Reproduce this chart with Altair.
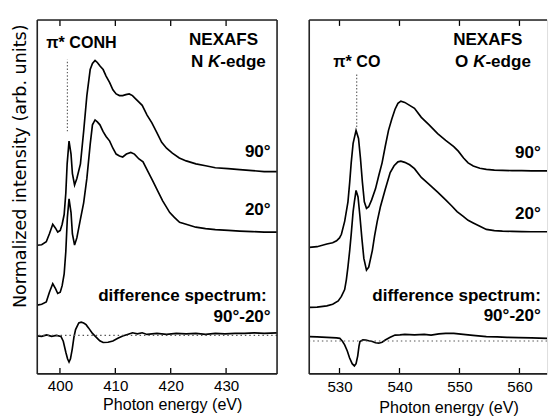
import altair as alt
import pandas as pd

FONT = "Liberation Sans"
W_L, W_R, H = 246, 244, 363

# ---------------- N K-edge (left panel) ----------------
n90_E = [395.9, 396.7, 397.53, 398.1, 398.7, 399.2, 399.6, 400.05, 400.4, 400.76, 401.06, 401.3, 401.64, 402.0,
         402.25, 402.64, 403.05, 403.7, 404.28, 404.86, 405.46, 405.87, 406.34, 406.75, 407.27, 407.8, 408.33,
         408.98, 409.56, 410.15, 410.75, 411.33, 411.9, 412.5, 413.1, 413.67, 414.27, 414.85, 415.73, 416.6,
         417.5, 418.37, 419.25, 420.3, 421.55, 422.8, 424.55, 426.3, 428.06, 430.35, 432.46, 434.75, 436.87, 439.16]
n90_I = [132, 132.5, 135.5, 143.8, 153.5, 149.5, 145.5, 147.2, 153.5, 163.5, 185.5, 215.5, 238.8, 225.5,
         205.5, 193.8, 200.5, 215.5, 248.8, 285.5, 312.2, 318.5, 321.5, 319.5, 315.5, 312.2, 305.5,
         298.8, 291.5, 287.2, 285.5, 285.5, 286.5, 287.2, 285.5, 282.2, 278.8, 275.5, 265.5, 257.5,
         247.5, 237.5, 231.5, 226.5, 221.5, 218.5, 215.5, 213.5, 211.5, 210.5, 209.5, 208.5, 207.5, 207.5]

n20_E = [395.9, 396.7, 397.53, 398.1, 398.7, 399.2, 399.6, 400.05, 400.4, 400.76, 401.06, 401.34, 401.64, 402.0,
         402.25, 402.64, 403.05, 403.7, 404.28, 404.86, 405.46, 405.87, 406.34, 406.75, 407.22, 407.8, 408.33,
         408.98, 409.56, 410.15, 410.75, 411.33, 412.0, 412.8, 413.45, 414.27, 415.0, 415.9, 416.8, 417.67,
         418.55, 419.83, 420.66, 421.6, 422.78, 424.54, 426.3, 428.06, 430.4, 432.46, 434.75, 436.87, 439.16]
n20_I = [70.5, 71.5, 73.8, 83.8, 92.5, 87.5, 82.5, 83.8, 90.5, 102.5, 125.5, 160.5, 179.5, 165.5,
         143.5, 132.2, 139.5, 158.8, 175.5, 200.5, 235.5, 255.5, 260.5, 258.5, 255.5, 248.5, 243.5,
         238.8, 231.5, 225.5, 223.5, 222.5, 225.5, 227.2, 225.5, 220.5, 217.5, 207.5, 197.5, 187.5,
         177.5, 165.5, 160.5, 155.5, 153.5, 150.5, 149, 148, 147.2, 146.5, 146, 145.5, 145.5]

nd_E = [395.9, 396.7, 397.6, 398.5, 399.35, 400.18, 400.6, 401.06, 401.37, 401.64, 401.9, 402.22, 402.52, 402.82,
        403.4, 403.84, 404.28, 404.72, 405.16, 405.87, 406.62, 407.19, 407.8, 408.68, 409.56, 410.45, 411.33,
        412.2, 413.1, 413.97, 414.85, 415.73, 417.5, 419.25, 421.0, 422.78, 424.54, 426.3, 428.06, 429.8,
        431.6, 433.35, 435.1, 436.87, 439.16]
nd_I = [39, 38.5, 40, 38.5, 39.5, 38.5, 33.5, 22.2, 15.5, 12.2, 15.5, 25.5, 37.5, 45.5,
        52.2, 53, 52.2, 50.5, 47.2, 41.5, 37.2, 34, 32.2, 32.5, 33.8, 36.5, 38.8,
        40.5, 42.2, 41, 42.2, 40.5, 41.5, 40.5, 41.5, 41, 41.5, 40.5, 41.5, 41,
        41.5, 41.5, 42, 41.5, 42]

# ---------------- O K-edge (right panel) ----------------
o90_E = [524.97, 526.26, 527.89, 528.86, 529.51, 530.0, 530.32, 530.86, 531.41, 531.7, 531.95, 532.27, 532.76,
         533.17, 533.49, 533.82, 534.14, 534.5, 534.87, 535.36, 536.0, 536.55, 537.1, 537.63, 538.17, 538.72,
         539.26, 539.74, 540.23, 540.88, 541.69, 542.5, 543.64, 544.94, 546.36, 547.7, 549.05, 549.8, 550.68,
         551.44, 552.3, 553.4, 554.48, 555.82, 557.17, 558.75, 560.37, 562.0, 564.6]
o90_I = [129.8, 130.5, 133.2, 134.5, 136.5, 139.5, 143.2, 156.5, 176.5, 196.5, 216.5, 236.5, 249.8,
         241.5, 221.5, 196.5, 176.5, 169.8, 171.5, 178.5, 189.8, 203.5, 216.5, 233.5, 249.8, 261.5,
         271.5, 277.5, 279.8, 278.5, 275.5, 272.5, 263.2, 255.5, 246.5, 239.5, 233.2, 228.5, 221.5,
         216.5, 213.2, 211, 209.8, 209, 208.8, 208.5, 208.5, 208.2, 208.2]

o20_E = [524.97, 526.26, 527.89, 528.86, 529.79, 530.32, 530.86, 531.14, 531.41, 531.7, 531.95, 532.27, 532.48,
         532.76, 533.09, 533.41, 533.74, 534.06, 534.5, 534.87, 535.47, 535.85, 536.29, 536.82, 537.63, 538.45,
         539.1, 539.74, 540.23, 540.88, 541.69, 542.5, 543.64, 544.94, 546.36, 547.7, 548.68, 549.6, 550.63,
         551.44, 552.3, 553.4, 554.48, 555.82, 557.17, 558.75, 560.37, 562.0, 564.6]
o20_I = [68.2, 68.5, 69.8, 71.5, 74.8, 79.5, 86.5, 96.5, 109.8, 126.5, 143.2, 166.5, 176.5,
         188.2, 181.5, 161.5, 138.5, 118.5, 106.5, 109.5, 126.5, 141.5, 156.5, 171.5, 189.5, 206.5,
         213.5, 217.5, 218.2, 217, 214.5, 210.5, 201.5, 194.5, 186.5, 178.5, 172.5, 166.5, 161.5,
         157.5, 154.8, 151.5, 148.2, 147, 146.5, 146.2, 146, 145.8, 145.8]

od_E = [524.97, 526.26, 527.89, 529.51, 530.05, 530.49, 530.86, 531.3, 531.67, 532.11, 532.48, 532.76, 533.04,
        533.25, 533.41, 533.9, 534.39, 534.87, 535.47, 536.0, 536.55, 537.1, 537.63, 538.45, 539.26, 540.07,
        540.88, 542.5, 544.13, 545.27, 546.57, 547.7, 549.05, 550.63, 552.25, 554.48, 556.3, 557.94, 559.88,
        562.0, 564.6]
od_I = [38.2, 38, 37.5, 37, 36.5, 33.5, 29.8, 23.5, 16.5, 10.5, 8.2, 10.5, 18.5,
        28.5, 33.2, 35, 34.8, 34, 33.2, 32, 31.5, 32.5, 34.8, 37.5, 39.8, 40,
        40.5, 40, 40.5, 39.8, 41, 41.5, 41.5, 40.5, 39.5, 38.2, 38, 37.5, 37.2,
        37, 36.5]

# tick values
n_ticks = [400, 410, 420, 430]
o_ticks = [530, 540, 550, 560]

# annotations: (label, energy, intensity)
n_pi_lbl, n_pi_lE, n_pi_lI = ["\u03c0* CONH"], [397.53], [334.8]
n_left_lbl = ["NEXAFS", "N", "-edge"]
n_left_E = [423.3, 423.66, 428.96]
n_left_I = [337.2, 314.5, 314.5]
n_ital_lbl, n_ital_E, n_ital_I = ["K"], [426.74], [314.5]
n_right_lbl = ["90°", "20°", "difference spectrum:", "90°-20°"]
n_right_E = [438.05, 438.05, 437.35, 438.05]
n_right_I = [222.2, 163.5, 74.8, 52.8]

o_pi_lbl, o_pi_lE, o_pi_lI = ["\u03c0* CO"], [528.96], [314.8]
o_left_lbl = ["NEXAFS", "O", "-edge"]
o_left_E = [548.95, 549.27, 554.33]
o_left_I = [337.2, 314.8, 314.8]
o_ital_lbl, o_ital_E, o_ital_I = ["K"], [552.28], [314.8]
o_right_lbl = ["90°", "20°", "difference spectrum:", "90°-20°"]
o_right_E = [563.57, 563.57, 563.57, 563.57]
o_right_I = [221.5, 158.5, 74.8, 53.8]

# dotted guides
n_pi_E, n_pi_I1, n_pi_I2, n_base = 401.34, 248.8, 322.5, 39.5
o_pi_E, o_pi_I1, o_pi_I2, o_base = 532.87, 253.2, 308.2, 33.8


def series_df(parts):
    rows = []
    for name, es, vs in parts:
        for e, v in zip(es, vs):
            rows.append({"E": e, "I": v, "s": name})
    return pd.DataFrame(rows)


def ann_df(lbl, es, vs):
    return pd.DataFrame({"label": lbl, "E": es, "I": vs})


def panel(lines, xdom, width, ticks, ann_pi, ann_l, ann_i, ann_r, pi, base_v,
          title_x, title_y, label_pad, with_ytitle, right_frame):
    xs = alt.Scale(domain=xdom, nice=False, zero=False)
    ys = alt.Scale(domain=[0, H], nice=False, zero=False)
    xaxis = alt.Axis(values=ticks, format="d", ticks=False, tickSize=0, domain=False, grid=False,
                     labelPadding=label_pad, labelFontSize=15.5, labelFont=FONT, labelColor="black",
                     title="Photon energy (eV)", titleFont=FONT, titleFontSize=16.5,
                     titleFontWeight="normal", titleColor="black", titleX=title_x, titleY=title_y,
                     titleBaseline="alphabetic", titleAlign="center")
    if with_ytitle:
        yaxis = alt.Axis(title="Normalized intensity (arb. units)", labels=False, ticks=False, tickSize=0,
                         domain=False, grid=False, titleX=-12.3, titleY=149.5, titleAngle=270,
                         titleBaseline="alphabetic", titleAlign="center", titleFont="DejaVu Sans",
                         titleFontSize=18, titleFontWeight="normal", titleColor="black")
    else:
        yaxis = None

    X = lambda f="E:Q": alt.X(f, scale=xs, axis=xaxis)
    Y = lambda f="I:Q": alt.Y(f, scale=ys, axis=yaxis)

    layers = []
    layers.append(alt.Chart(lines).mark_line(color="black", strokeWidth=1.7, clip=True).encode(
        x=X(), y=Y(), detail="s:N"))

    tick_df = pd.DataFrame({"E": ticks})
    for y1, y2 in [(H, H - 6), (0, 6)]:
        layers.append(alt.Chart(tick_df).mark_rule(color="black", strokeWidth=1.3).encode(
            x=X(), y=alt.value(y1), y2=alt.value(y2)))

    pi_df = pd.DataFrame({"E": [pi[0]], "I1": [pi[1]], "I2": [pi[2]]})
    layers.append(alt.Chart(pi_df).mark_rule(color="#555", strokeWidth=1.1, strokeDash=[1.5, 2]).encode(
        x=X(), y=Y("I1:Q"), y2="I2:Q"))
    base_df = pd.DataFrame({"I": [base_v]})
    layers.append(alt.Chart(base_df).mark_rule(color="#555", strokeWidth=1.1, strokeDash=[1.5, 3]).encode(
        y=Y()))

    one = pd.DataFrame({"k": [0]})
    frame = [dict(x=alt.value(0), x2=alt.value(width), y=alt.value(0)),
             dict(x=alt.value(0), x2=alt.value(width), y=alt.value(H)),
             dict(x=alt.value(0), y=alt.value(0), y2=alt.value(H))]
    if right_frame:
        frame.append(dict(x=alt.value(width), y=alt.value(0), y2=alt.value(H)))
    for enc in frame:
        layers.append(alt.Chart(one).mark_rule(color="#222", strokeWidth=1.6).encode(**enc))

    for df, align, style, fs in [(ann_pi, "left", "normal", 16.5), (ann_l, "left", "normal", 17.5),
                                 (ann_i, "left", "italic", 17.5), (ann_r, "right", "normal", 17.5)]:
        layers.append(alt.Chart(df).mark_text(align=align, baseline="alphabetic", font=FONT, fontSize=fs,
                                              fontWeight="bold", fontStyle=style, color="black").encode(
            x=X(), y=Y(), text="label:N"))

    return alt.layer(*layers).properties(width=width, height=H)


left = panel(series_df([("90", n90_E, n90_I), ("20", n20_E, n20_I), ("d", nd_E, nd_I)]),
             [395.9, 439.2], W_L, n_ticks,
             ann_df(n_pi_lbl, n_pi_lE, n_pi_lI),
             ann_df(n_left_lbl, n_left_E, n_left_I), ann_df(n_ital_lbl, n_ital_E, n_ital_I),
             ann_df(n_right_lbl, n_right_E, n_right_I),
             (n_pi_E, n_pi_I1, n_pi_I2), n_base, 138.5, 36.5, 5, True, True)

right = panel(series_df([("90", o90_E, o90_I), ("20", o20_E, o20_I), ("d", od_E, od_I)]),
              [524.95, 564.6], W_R, o_ticks,
              ann_df(o_pi_lbl, o_pi_lE, o_pi_lI),
              ann_df(o_left_lbl, o_left_E, o_left_I), ann_df(o_ital_lbl, o_ital_E, o_ital_I),
              ann_df(o_right_lbl, o_right_E, o_right_I),
              (o_pi_E, o_pi_I1, o_pi_I2), o_base, 143, 40, 6.5, False, False)

chart = alt.hconcat(left, right, spacing=29).properties(
    padding={"left": 3, "top": 5, "right": 0, "bottom": 0}
).configure_view(strokeWidth=0).configure(font=FONT)

chart.save("out.html", embed_options={"renderer": "svg", "actions": False})
